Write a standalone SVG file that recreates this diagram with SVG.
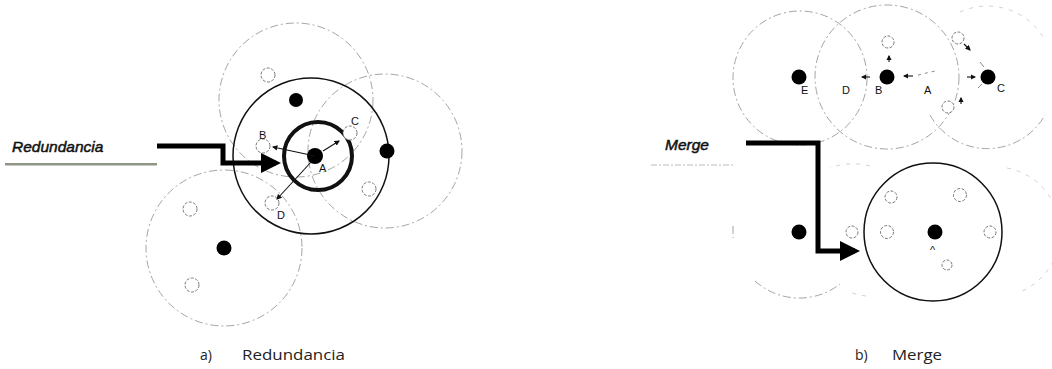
<svg xmlns="http://www.w3.org/2000/svg" width="1052" height="369" viewBox="0 0 1052 369">
<style>
.dash{fill:none;stroke:#9a9a9a;stroke-width:0.9;stroke-dasharray:8 3 2 3}
.faint{fill:none;stroke:#c4c4c4;stroke-width:0.8;stroke-dasharray:4 6}
.solid{fill:none;stroke:#111;stroke-width:1.5}
.thick{fill:none;stroke:#111;stroke-width:4}
.full{fill:#000}
.hollow{fill:#fff;stroke:#777;stroke-width:1;stroke-dasharray:3 1.5}
.lbl{font-family:"Liberation Sans",Arial,sans-serif;font-size:11px;fill:#111}
.big{font-family:"Liberation Sans",Arial,sans-serif;font-size:15.5px;font-style:italic;fill:#111;stroke:#111;stroke-width:0.5}
.cap{font-family:"Open Sans","Liberation Sans",sans-serif;font-size:14px;fill:#222}
.link{stroke:#111;stroke-width:1.1;fill:none}
.big-arrow{fill:none;stroke:#000;stroke-width:5}
</style>
<defs>
<marker id="ah" markerWidth="5" markerHeight="5" refX="4" refY="2.5" orient="auto" markerUnits="strokeWidth"><path d="M0,0 L5,2.5 L0,5 z" fill="#111"/></marker>
<marker id="bh" markerWidth="4" markerHeight="4" refX="3" refY="2" orient="auto" markerUnits="strokeWidth"><path d="M0,0 L4,2 L0,4 z" fill="#000"/></marker>
</defs>
<rect width="1052" height="369" fill="#fff"/>

<!-- Left panel: Redundancia -->
<g id="left-ranges">
<circle class="dash" cx="296" cy="100" r="77"/>
<circle class="dash" cx="385" cy="151" r="77"/>
<circle class="dash" cx="224" cy="248" r="78"/>
</g>
<g id="node-A-range"><circle class="solid" cx="311" cy="156" r="78"/></g>
<g id="node-A-core"><circle class="thick" cx="318" cy="156" r="34"/></g>
<g id="left-nodes">
<circle class="full" cx="315" cy="156" r="8"/>
<circle class="full" cx="296" cy="100" r="7"/>
<circle class="full" cx="387" cy="151" r="7.5"/>
<circle class="full" cx="224" cy="248" r="7.5"/>
<circle class="hollow" cx="268" cy="75" r="7"/>
<circle class="hollow" cx="263" cy="146" r="7"/>
<circle class="hollow" cx="350" cy="133" r="7"/>
<circle class="hollow" cx="369" cy="189" r="7"/>
<circle class="hollow" cx="272" cy="203" r="7"/>
<circle class="hollow" cx="190" cy="209" r="7"/>
<circle class="hollow" cx="192" cy="285" r="7"/>
</g>
<g id="left-connectors">
<line class="link" x1="315" y1="156" x2="273" y2="147" marker-end="url(#ah)"/>
<line class="link" x1="323" y1="151" x2="339" y2="141" marker-end="url(#ah)"/>
<line class="link" x1="312" y1="161" x2="277" y2="199" marker-end="url(#ah)"/>
<path class="big-arrow" d="M157,146 H223 V163 H276" marker-end="url(#bh)"/>
</g>
<g id="left-labels">
<text class="lbl" x="259" y="139">B</text>
<text class="lbl" x="351" y="125">C</text>
<text class="lbl" x="319" y="172">A</text>
<text class="lbl" x="277" y="219">D</text>
<text class="big" x="12" y="152">Redundancia</text>
<rect x="5" y="163" width="152" height="2.5" fill="#8f9685"/>
</g>

<!-- Right panel: Merge -->
<g id="right-top-ranges">
<circle class="dash" cx="800" cy="78" r="67"/>
<circle class="dash" cx="887" cy="77" r="72"/>
<path class="dash" d="M930,115 A66,66 0 0 0 1045,115"/>
<path class="faint" d="M960,12 A66,66 0 0 1 1045,40"/>
</g>
<g id="right-top-nodes">
<circle class="full" cx="799" cy="77" r="7.5"/>
<circle class="full" cx="887" cy="77" r="7.5"/>
<circle class="full" cx="988" cy="77" r="7.5"/>
<circle class="hollow" cx="888" cy="42" r="6" stroke="#aaa"/>
<circle class="hollow" cx="958" cy="38" r="6" stroke="#aaa"/>
<circle class="hollow" cx="948" cy="107" r="6" stroke="#aaa"/>
</g>
<g id="right-top-connectors">
<line class="link" x1="870" y1="77" x2="862" y2="77" marker-end="url(#ah)" stroke-width="1"/>
<line class="link" x1="913" y1="76" x2="904" y2="76" marker-end="url(#ah)" stroke-width="1"/>
<line stroke="#888" stroke-width="1" stroke-dasharray="3 4" x1="918" y1="75" x2="935" y2="71"/>
<line class="link" x1="889" y1="62" x2="889" y2="56" marker-end="url(#ah)" stroke-width="1"/>
<line class="link" x1="964" y1="44" x2="970" y2="50" marker-end="url(#ah)" stroke-width="1"/>
<line stroke="#888" stroke-width="1" x1="980" y1="62" x2="984" y2="67"/>
<line class="link" x1="967" y1="77" x2="975" y2="77" marker-end="url(#ah)" stroke-width="1"/>
<line class="link" x1="961" y1="104" x2="961" y2="98" marker-end="url(#ah)" stroke-width="1"/>
<line stroke="#888" stroke-width="1" x1="978" y1="88" x2="982" y2="84"/>
</g>
<g id="right-top-labels">
<text class="lbl" x="801" y="94" font-size="10">E</text>
<text class="lbl" x="842" y="94" font-size="10">D</text>
<text class="lbl" x="875" y="94" font-size="10">B</text>
<text class="lbl" x="924" y="94" font-size="10">A</text>
<text class="lbl" x="997" y="92" font-size="10">C</text>
</g>
<g id="right-bottom-ranges">
<path class="dash" d="M755,281 A66,66 0 0 0 840,284" stroke="#aaa"/>
<line class="dash" x1="733" y1="226" x2="733" y2="238"/>
<path class="faint" d="M1007,168 A65,65 0 0 1 1020,292"/>
<path class="faint" d="M870,166 A65,65 0 0 0 830,168"/>
<path class="faint" d="M866,296 A65,65 0 0 1 850,292"/>
</g>
<g id="merged-node-range"><circle class="solid" cx="933" cy="232" r="69"/></g>
<g id="right-bottom-nodes">
<circle class="full" cx="935" cy="232" r="7.5"/>
<circle class="full" cx="799" cy="232" r="7.5"/>
<circle class="hollow" cx="852" cy="232" r="6"/>
<circle class="hollow" cx="887" cy="232" r="6.5"/>
<circle class="hollow" cx="960" cy="195" r="6.5"/>
<circle class="hollow" cx="891" cy="197" r="6" stroke="#aaa"/>
<circle class="hollow" cx="990" cy="232" r="6" stroke="#aaa"/>
<circle class="hollow" cx="947" cy="265" r="5" stroke="#aaa"/>
</g>
<g id="right-bottom-connectors">
<path class="big-arrow" d="M746,143 H818 V251 H855" marker-end="url(#bh)"/>
</g>
<g id="right-bottom-labels">
<text class="lbl" x="930" y="254" font-size="13">^</text>
<text class="big" x="665" y="150" font-size="16.5">Merge</text>
<line x1="651" y1="165" x2="733" y2="165" stroke="#bbb" stroke-width="1.2" stroke-dasharray="6 2 2 2"/>
</g>

<g id="captions">
<text class="cap" x="200" y="360">a)</text>
<text class="cap" x="242" y="360" textLength="103" lengthAdjust="spacingAndGlyphs">Redundancia</text>
<text class="cap" x="855" y="360">b)</text>
<text class="cap" x="892" y="360" textLength="50" lengthAdjust="spacingAndGlyphs">Merge</text>
</g>
</svg>
